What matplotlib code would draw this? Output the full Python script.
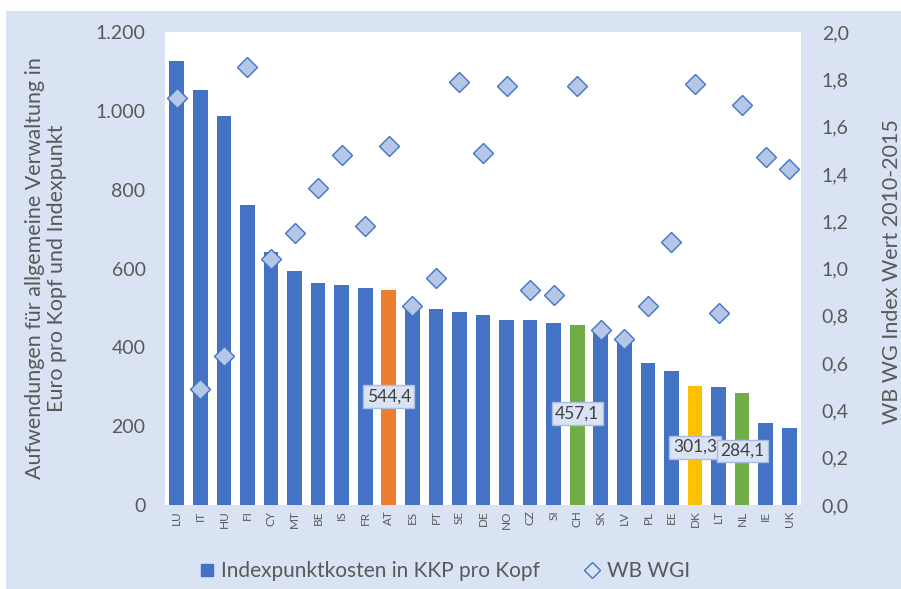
import numpy as np
import matplotlib
matplotlib.use('Agg')
import matplotlib.pyplot as plt
from matplotlib.patches import Rectangle
from matplotlib.lines import Line2D
from matplotlib.ticker import FuncFormatter, MultipleLocator

# ---------------------------------------------------------------------
# Daten
# ---------------------------------------------------------------------
laender = ['LU', 'IT', 'HU', 'FI', 'CY', 'MT', 'BE', 'IS', 'FR', 'AT',
           'ES', 'PT', 'SE', 'DE', 'NO', 'CZ', 'SI', 'CH', 'SK', 'LV',
           'PL', 'EE', 'DK', 'LT', 'NL', 'IE', 'UK']

kosten = [1127, 1054, 988, 760, 642, 593, 564, 557, 550, 544.4,
          505, 496, 490, 482, 470, 470, 461, 457.1, 440, 420,
          360, 340, 301.3, 300, 284.1, 209, 195]

wgi = [1.72, 0.49, 0.63, 1.85, 1.04, 1.15, 1.34, 1.48, 1.18, 1.52,
       0.84, 0.96, 1.79, 1.49, 1.77, 0.91, 0.89, 1.77, 0.74, 0.70,
       0.84, 1.11, 1.78, 0.81, 1.69, 1.47, 1.42]

hervorgehoben = {'AT': '#ED7D31', 'CH': '#70AD47', 'DK': '#FFC000', 'NL': '#70AD47'}
beschriftet = ['AT', 'CH', 'DK', 'NL']

# ---------------------------------------------------------------------
# Stil
# ---------------------------------------------------------------------
BLAU = '#4472C4'
GRAU = '#595959'
HINTERGRUND = '#DAE3F3'
plt.rcParams['font.family'] = ['Lato', 'DejaVu Sans']
plt.rcParams['text.color'] = GRAU

fig = plt.figure(figsize=(9.01, 5.89), dpi=100, facecolor='white')
fig.patches.append(Rectangle((6 / 901, 0), 1, 1 - 11 / 589,
                             transform=fig.transFigure,
                             facecolor=HINTERGRUND, edgecolor='none', zorder=-10))

ax = fig.add_axes([165 / 901, 1 - 505 / 589, 636 / 901, 473 / 589])
ax.set_facecolor('white')

x = np.arange(len(laender))
farben = [hervorgehoben.get(l, BLAU) for l in laender]
ax.bar(x, kosten, width=0.62, color=farben, zorder=2)

ax.set_xlim(-0.5, len(laender) - 0.5)
ax.set_ylim(0, 1200)
ax.yaxis.set_major_locator(MultipleLocator(200))
ax.yaxis.set_major_formatter(FuncFormatter(lambda v, p: f'{v:,.0f}'.replace(',', '.')))
ax.set_xticks(x)
ax.set_xticklabels(laender, rotation=90, fontsize=8.5, color=GRAU)
ax.tick_params(axis='y', length=0, pad=14, labelsize=14, labelcolor=GRAU)
ax.tick_params(axis='x', length=0, pad=4)
for s in ax.spines.values():
    s.set_visible(False)

# Datenbeschriftungen
label_y = {'AT': 276, 'CH': 232, 'DK': 147, 'NL': 137}
for l in beschriftet:
    i = laender.index(l)
    txt = f'{kosten[i]:.1f}'.replace('.', ',')
    ax.text(i, label_y[l], txt, ha='center', va='center', fontsize=12.5,
            color='#404040', zorder=5,
            bbox=dict(boxstyle='square,pad=0.2', fc=HINTERGRUND, ec='#A9BCE3', lw=1))

# Sekundärachse WGI
ax2 = ax.twinx()
ax2.plot(x, wgi, linestyle='none', marker='D', markersize=10,
         markerfacecolor='#B4C7E7', markeredgecolor=BLAU, markeredgewidth=1, zorder=3)
ax2.set_ylim(0, 2.0)
ax2.yaxis.set_major_locator(MultipleLocator(0.2))
ax2.yaxis.set_major_formatter(FuncFormatter(lambda v, p: f'{v:.1f}'.replace('.', ',')))
ax2.tick_params(axis='y', length=0, pad=15, labelsize=14, labelcolor=GRAU)
for s in ax2.spines.values():
    s.set_visible(False)

# Achsentitel
fig.text(46 / 901, 1 - 268 / 589,
         'Aufwendungen für allgemeine Verwaltung in\nEuro pro Kopf und Indexpunkt',
         rotation=90, ha='center', va='center', fontsize=15.5, color=GRAU,
         linespacing=1.15)
fig.text(892 / 901, 1 - 272 / 589, 'WB WG Index Wert 2010-2015',
         rotation=90, ha='center', va='center', fontsize=15.5, color=GRAU)

# Legende
handles = [
    Line2D([], [], linestyle='none', marker='s', markersize=9,
           markerfacecolor=BLAU, markeredgecolor=BLAU),
    Line2D([], [], linestyle='none', marker='D', markersize=8,
           markerfacecolor='#DAE3F3', markeredgecolor=BLAU, markeredgewidth=1),
]
fig.legend(handles, ['Indexpunktkosten in KKP pro Kopf', 'WB WGI'],
           loc='center', bbox_to_anchor=(443 / 901, 1 - 571 / 589), ncol=2,
           frameon=False, fontsize=15, handletextpad=0.2, columnspacing=2.0,
           handlelength=1.0, labelcolor=GRAU)

fig.savefig('out.png', dpi=100, facecolor='white')
